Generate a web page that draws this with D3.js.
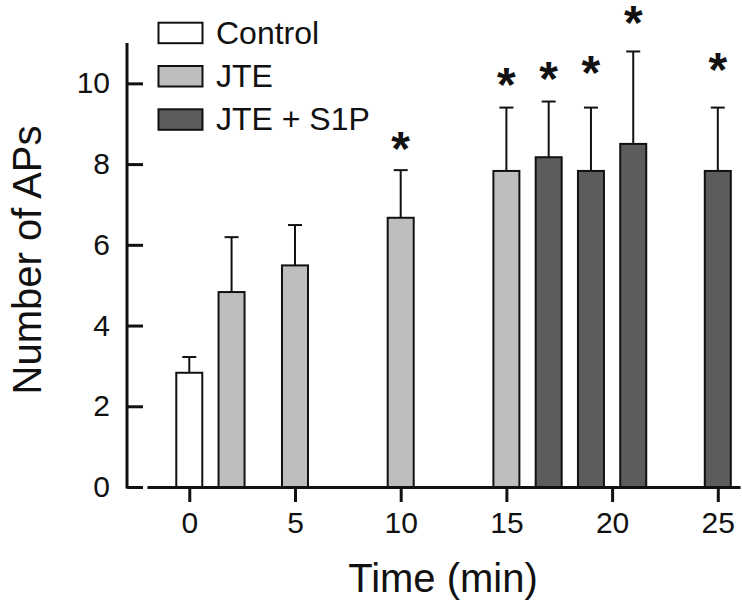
<!DOCTYPE html>
<html>
<head>
<meta charset="utf-8">
<script src="https://cdn.jsdelivr.net/npm/d3@7"></script>
<style>
  html, body { margin: 0; padding: 0; background: #fff; }
  svg { display: block; font-family: "Liberation Sans", Arial, sans-serif; }
</style>
</head>
<body>
<svg id="chart" width="742" height="616"></svg>
<script>
// ---- data ----
const seriesNames = ["Control", "JTE", "JTE + S1P"];
const controlTimes = [0];
const controlMeans = [2.83];
const controlErr = [0.39];
const jteTimes = [2, 5, 10, 15];
const jteMeans = [4.83, 5.49, 6.67, 7.83];
const jteErr = [1.36, 1.00, 1.18, 1.57];
const s1pTimes = [17, 19, 21, 25];
const s1pMeans = [8.17, 7.83, 8.50, 7.83];
const s1pErr = [1.38, 1.57, 2.29, 1.57];
const starTimes = [10, 15, 17, 19, 21, 25];
const starLevels = [8.66, 10.23, 10.40, 10.53, 11.78, 10.62];
const xTicks = [0, 5, 10, 15, 20, 25];
const yTicks = [0, 2, 4, 6, 8, 10];

// ---- styling ----
const fills = ["#ffffff", "#bebebe", "#5c5c5c"];
const ink = "#111";

const svg = d3.select("#chart");
const x = d3.scaleLinear().domain([-2, 26.05]).range([147, 740]);
const y = d3.scaleLinear().domain([0, 11]).range([487, 43]);
const halfW = 0.615;

const series = [
  {times: controlTimes, means: controlMeans, err: controlErr},
  {times: jteTimes, means: jteMeans, err: jteErr},
  {times: s1pTimes, means: s1pMeans, err: s1pErr}
];

// error bars (upward only)
series.forEach((s, si) => {
  const rows = s.times.map((t, i) => ({t, m: s.means[i], e: s.err[i]}));
  const g = svg.append("g");
  g.selectAll("line.stem").data(rows).join("line")
    .attr("x1", d => x(d.t)).attr("x2", d => x(d.t))
    .attr("y1", d => y(d.m)).attr("y2", d => y(d.m + d.e))
    .attr("stroke", ink).attr("stroke-width", 2);
  g.selectAll("line.cap").data(rows).join("line")
    .attr("x1", d => x(d.t) - 7).attr("x2", d => x(d.t) + 7)
    .attr("y1", d => y(d.m + d.e)).attr("y2", d => y(d.m + d.e))
    .attr("stroke", ink).attr("stroke-width", 2);
  g.selectAll("rect").data(rows).join("rect")
    .attr("x", d => x(d.t - halfW))
    .attr("width", d => x(d.t + halfW) - x(d.t - halfW))
    .attr("y", d => y(d.m))
    .attr("height", d => y(0) - y(d.m))
    .attr("fill", fills[si]).attr("stroke", ink).attr("stroke-width", 2);
});

// significance stars
const starSize = 48;
svg.append("g").selectAll("text").data(starTimes.map((t, i) => ({t, v: starLevels[i]})))
  .join("text")
  .attr("x", d => x(d.t)).attr("y", d => y(d.v) + starSize * 0.57)
  .attr("text-anchor", "middle")
  .attr("font-size", starSize).attr("font-weight", "bold").attr("fill", ink)
  .text("*");

// axes
const yAxis = d3.axisLeft(y).tickValues(yTicks).tickSize(-16).tickSizeOuter(0).tickPadding(17);
const gy = svg.append("g").attr("transform", "translate(127,0)").call(yAxis);
gy.select(".domain").attr("stroke", ink).attr("stroke-width", 3).attr("d", `M0,${y(0)+1.5}V${y.range()[1]}`);
gy.selectAll(".tick line").attr("stroke", ink).attr("stroke-width", 3);
gy.selectAll(".tick text").attr("font-size", 30).attr("font-family", "Liberation Sans, Arial, sans-serif").attr("fill", ink);

const xAxis = d3.axisBottom(x).tickValues(xTicks).tickSize(15).tickSizeOuter(0).tickPadding(10);
const gx = svg.append("g").attr("transform", `translate(0,${y(0)})`).call(xAxis);
gx.select(".domain").attr("stroke", ink).attr("stroke-width", 3);
gx.selectAll(".tick line").attr("stroke", ink).attr("stroke-width", 3);
gx.selectAll(".tick text").attr("font-size", 30).attr("font-family", "Liberation Sans, Arial, sans-serif").attr("fill", ink);

// axis titles
svg.append("text").attr("x", 443).attr("y", 592).attr("text-anchor", "middle")
  .attr("font-size", 40).attr("fill", ink).text("Time (min)");
svg.append("text").attr("transform", "translate(41,260) rotate(-90)").attr("text-anchor", "middle")
  .attr("font-size", 40).attr("fill", ink).text("Number of APs");

// legend
const lg = svg.append("g");
seriesNames.forEach((name, i) => {
  const top = 22.7 + i * 43.3;
  lg.append("rect").attr("x", 158.5).attr("y", top).attr("width", 44).attr("height", 20.5)
    .attr("fill", fills[i]).attr("stroke", ink).attr("stroke-width", 2);
  lg.append("text").attr("x", 216).attr("y", top + 20.8).attr("font-size", 32).attr("fill", ink).text(name);
});
</script>
</body>
</html>
